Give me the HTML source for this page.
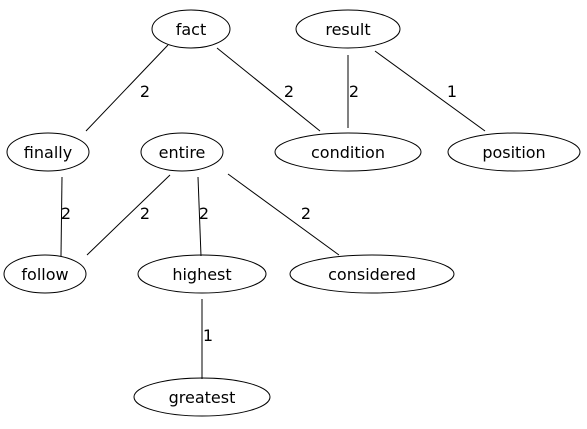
<!DOCTYPE html>
<html><head><meta charset="utf-8"><style>
html,body{margin:0;padding:0;background:#fff;}
svg{display:block;}
text{font-family:"DejaVu Sans","Liberation Sans",sans-serif;font-size:16px;fill:#000;}
</style></head><body>
<svg width="587" height="429" viewBox="0 0 587 429" xmlns="http://www.w3.org/2000/svg">
<g stroke="#000" stroke-width="1" fill="none">
<line x1="168" y1="45" x2="86" y2="131"/>
<line x1="217" y1="48" x2="320" y2="131"/>
<line x1="348" y1="55" x2="348" y2="128"/>
<line x1="375" y1="51" x2="485" y2="131"/>
<line x1="62" y1="177" x2="61" y2="256"/>
<line x1="170" y1="175" x2="87" y2="255"/>
<line x1="198" y1="177" x2="201" y2="256"/>
<line x1="228" y1="174" x2="339" y2="255"/>
<line x1="202" y1="299" x2="202" y2="379"/>
<ellipse cx="191" cy="29" rx="39" ry="19"/>
<ellipse cx="348" cy="29" rx="52" ry="19"/>
<ellipse cx="48" cy="152" rx="41" ry="19"/>
<ellipse cx="182" cy="152" rx="41" ry="19"/>
<ellipse cx="348" cy="152" rx="73" ry="19"/>
<ellipse cx="514" cy="152" rx="66" ry="19"/>
<ellipse cx="45" cy="274" rx="41" ry="19"/>
<ellipse cx="202" cy="274" rx="64" ry="19"/>
<ellipse cx="372" cy="274" rx="82" ry="19"/>
<ellipse cx="202" cy="397" rx="68" ry="19"/>
</g>
<g text-anchor="middle">
<text x="191" y="35">fact</text>
<text x="348" y="35">result</text>
<text x="48" y="158">finally</text>
<text x="182" y="158">entire</text>
<text x="348" y="158">condition</text>
<text x="514" y="158">position</text>
<text x="45" y="280">follow</text>
<text x="202" y="280">highest</text>
<text x="372" y="280">considered</text>
<text x="202" y="403">greatest</text>
<text x="145" y="97">2</text>
<text x="289" y="97">2</text>
<text x="354" y="97">2</text>
<text x="452" y="97">1</text>
<text x="66" y="219">2</text>
<text x="145" y="219">2</text>
<text x="204" y="219">2</text>
<text x="306" y="219">2</text>
<text x="208" y="341">1</text>
</g>
</svg>
</body></html>
